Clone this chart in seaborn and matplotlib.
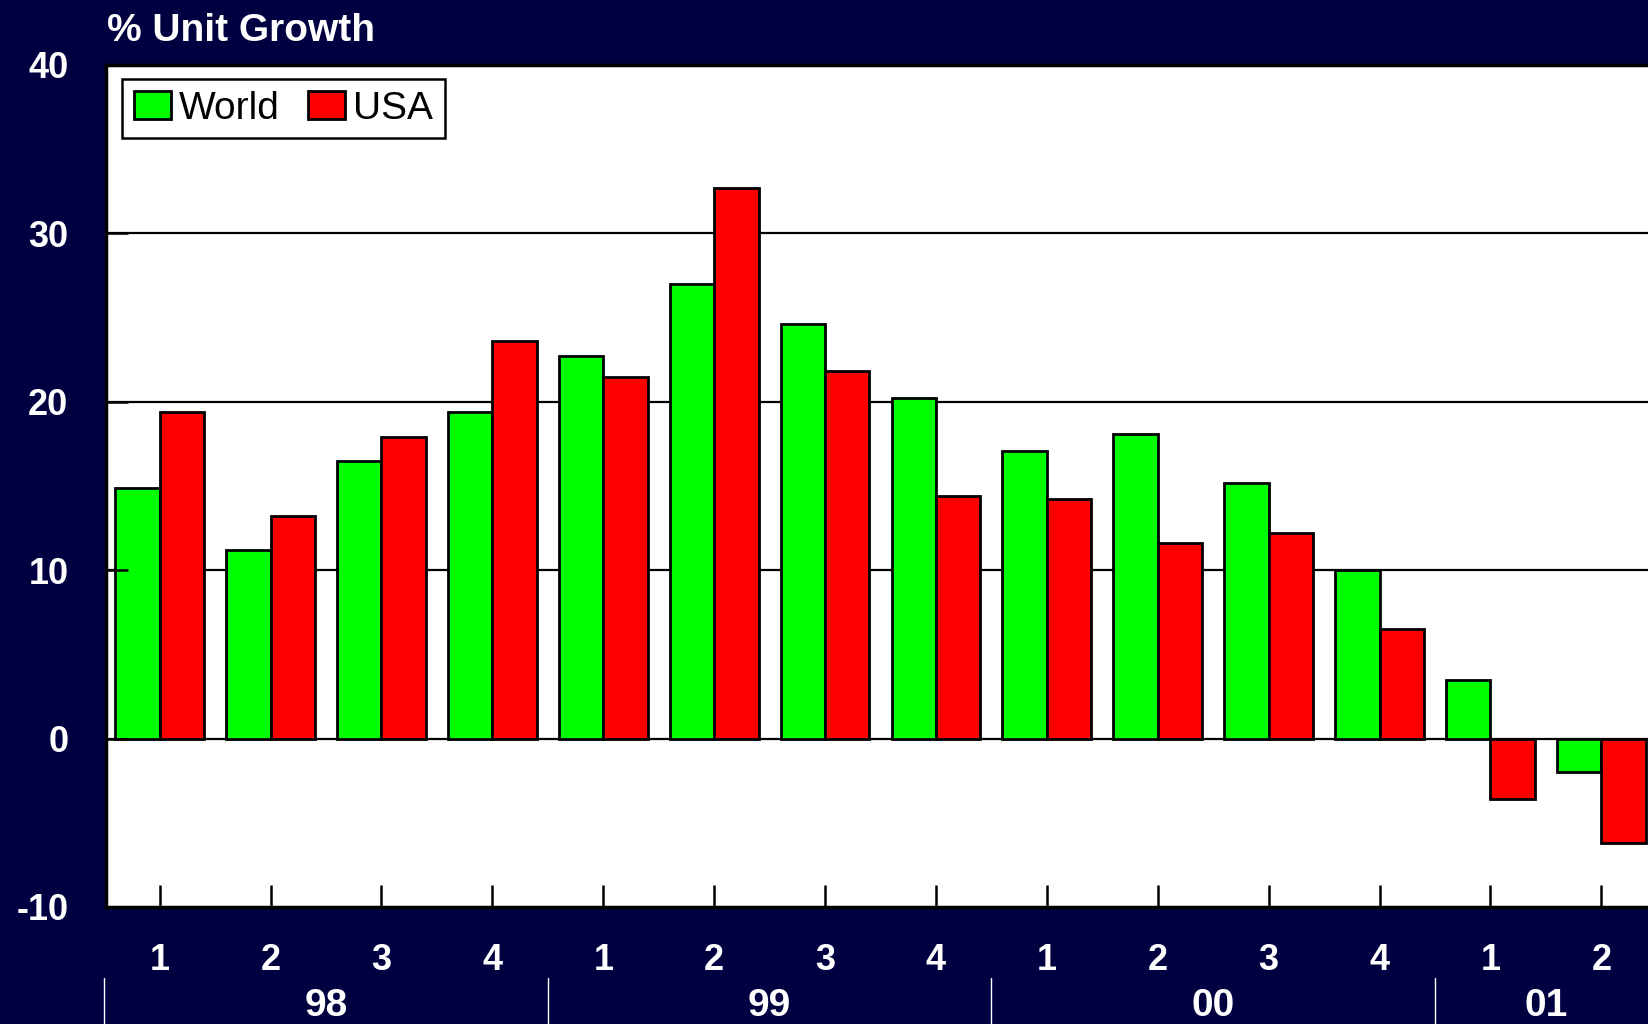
import pandas as pd
import seaborn as sns
import matplotlib.pyplot as plt

# quarterly % unit growth
quarters = ["1", "2", "3", "4", "1", "2", "3", "4", "1", "2", "3", "4", "1", "2"]
year_of_quarter = ["98"] * 4 + ["99"] * 4 + ["00"] * 4 + ["01"] * 2
years = ["98", "99", "00", "01"]
world = [14.9, 11.2, 16.5, 19.4, 22.7, 27.0, 24.6, 20.2, 17.1, 18.1, 15.2, 10.0, 3.5, -2.0]
usa = [19.4, 13.2, 17.9, 23.6, 21.5, 32.7, 21.8, 14.4, 14.2, 11.6, 12.2, 6.5, -3.6, -6.2]
series = ["World", "USA"]
colors = {"World": "#00FF00", "USA": "#FF0000"}

periods = [f"{y}-{q}" for y, q in zip(year_of_quarter, quarters)]
df = pd.DataFrame({
    "period": periods * 2,
    "series": ["World"] * len(world) + ["USA"] * len(usa),
    "value": world + usa,
})

sns.set_style("white")
plt.rcParams["font.family"] = ["Liberation Sans", "DejaVu Sans"]
plt.rcParams["axes.unicode_minus"] = False
plt.rcParams["text.color"] = "black"

bg = "#000040"
W, H = 1649, 1024
fig = plt.figure(figsize=(W / 100, H / 100), dpi=100, facecolor=bg)
ax = fig.add_axes([106 / W, 117 / H, 1543 / W, 842 / H])
ax.set_facecolor("white")

sns.barplot(
    data=df, x="period", y="value", hue="series",
    order=periods, hue_order=series, palette=colors,
    edgecolor="black", linewidth=2, saturation=1, width=0.8,
    errorbar=None, ax=ax,
)

# gridlines + zero line sit behind the bars
for yv in [0, 10, 20, 30]:
    ax.axhline(yv, color="black", lw=1.6, zorder=0.5)
ax.set_axisbelow(False)

ax.set_ylim(-10, 40)
ax.set_yticks([-10, 0, 10, 20, 30, 40])
ax.set_xlim(-0.484, 13.43)
ax.set_xticks(range(len(quarters)))
ax.set_xticklabels(quarters)
ax.set_xlabel("")
ax.set_ylabel("")

ax.tick_params(axis="x", bottom=True, direction="in", length=16, width=1.8,
               color="black", pad=26, labelsize=26, labelcolor="white")
ax.tick_params(axis="y", left=True, direction="in", length=16, width=1.8,
               color="black", pad=27, labelsize=26, labelcolor="white")
for lbl in ax.get_xticklabels() + ax.get_yticklabels():
    lbl.set_fontweight("bold")

for side in ["left", "top", "bottom"]:
    ax.spines[side].set_color("black")
    ax.spines[side].set_linewidth(2.5)
ax.spines["right"].set_visible(False)

# year group labels and separators under the quarter labels
tr = ax.get_xaxis_transform()
for yr in years:
    idx = [i for i, y in enumerate(year_of_quarter) if y == yr]
    center = sum(idx) / len(idx)
    ax.text(center, -0.118, yr, transform=tr, ha="center", va="center",
            color="white", fontsize=28, fontweight="bold", clip_on=False)
    left = idx[0] - 0.5
    ax.plot([left, left], [-0.084, -0.16], transform=tr, color="white",
            lw=1, clip_on=False)

h, l = ax.get_legend_handles_labels()
leg = ax.legend(h, l, loc="upper left", bbox_to_anchor=(16 / 1543, 1 - 14 / 842),
                ncol=2, fontsize=28, frameon=True, fancybox=False,
                edgecolor="black", framealpha=1, handlelength=0.95,
                handleheight=0.7, handletextpad=0.2, columnspacing=0.75,
                borderpad=0.3, borderaxespad=0)
leg.get_frame().set_linewidth(1.8)
for t in leg.get_texts():
    t.set_color("black")

fig.text(107 / W, 1 - 31 / H, "% Unit Growth", color="white", fontsize=28,
         fontweight="bold", ha="left", va="center")

fig.savefig("out.png", dpi=100, facecolor=fig.get_facecolor())
plt.close()
